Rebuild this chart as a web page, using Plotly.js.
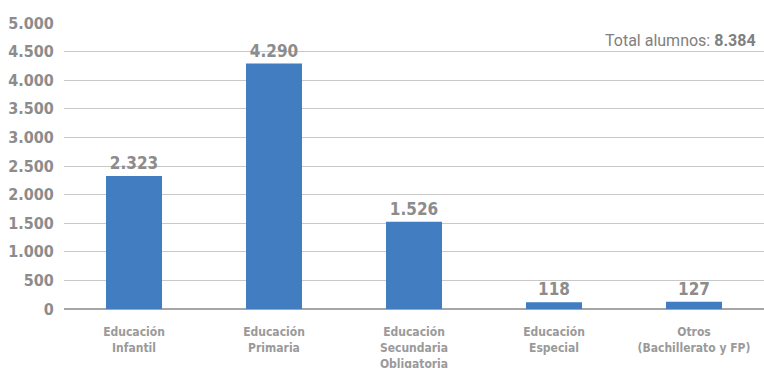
<!DOCTYPE html>
<html><head><meta charset="utf-8">
<script src="https://cdn.plot.ly/plotly-3.0.1.min.js"></script>
<style>html,body{margin:0;padding:0;background:#fff}#c{width:764px;height:368px}</style>
</head><body><div id="c"></div>
<script>
const categories = ["Educación<br>Infantil","Educación<br>Primaria","Educación<br>Secundaria<br>Obligatoria","Educación<br>Especial","Otros<br>(Bachillerato y FP)"];
const alumnos = [2323, 4290, 1526, 118, 127];
const totalAlumnos = 8384;
const yTicks = [0,500,1000,1500,2000,2500,3000,3500,4000,4500,5000];

const FONT = '"DejaVu Sans Condensed", "Liberation Sans Narrow", Arial, sans-serif';
const FONT2 = 'Roboto, "Liberation Sans", Arial, sans-serif';
const fmt = v => v.toString().replace(/\B(?=(\d{3})+(?!\d))/g, '.');

Plotly.newPlot('c', [{
  type: 'bar',
  x: [0,1,2,3,4],
  y: alumnos,
  width: 0.4,
  marker: {color: '#417DC0'},
  text: alumnos.map(v => '<b>' + fmt(v) + '</b>'),
  textposition: 'outside',
  cliponaxis: false,
  textfont: {family: FONT, size: 17, color: '#8c8c8c'},
  hoverinfo: 'none'
}], {
  width: 764, height: 368,
  margin: {l: 64, r: 0, t: 23, b: 59},
  paper_bgcolor: '#fff', plot_bgcolor: '#fff',
  separators: ',.',
  showlegend: false,
  xaxis: {
    range: [-0.5, 4.5],
    tickvals: [0,1,2,3,4],
    ticktext: categories.map(c => '<b>' + c + '</b>'),
    tickfont: {family: FONT, size: 12, color: '#9a9a9a'},
    showgrid: false, zeroline: false, showline: false,
    ticks: 'outside', ticklen: 12, tickcolor: 'rgba(0,0,0,0)'
  },
  yaxis: {
    range: [0, 5000],
    tickvals: yTicks,
    ticktext: yTicks.map(v => '<b>' + fmt(v) + '</b>'),
    tickfont: {family: FONT, size: 16, color: '#8c8c8c'},
    showgrid: true, gridcolor: '#c8c8c8', gridwidth: 1,
    zeroline: true, zerolinecolor: '#a6a6a6', zerolinewidth: 2,
    showline: false, ticks: 'outside', ticklen: 6, tickcolor: 'rgba(0,0,0,0)', automargin: false
  },
  annotations: [{
    xref: 'paper', yref: 'paper', x: 1, y: 0.94, xanchor: 'right', yanchor: 'middle',
    xshift: -6,
    text: 'Total alumnos: <b>' + fmt(totalAlumnos) + '</b>',
    showarrow: false,
    font: {family: FONT2, size: 16, color: '#808080'}
  }]
}, {displayModeBar: false, staticPlot: true});
</script></body></html>
